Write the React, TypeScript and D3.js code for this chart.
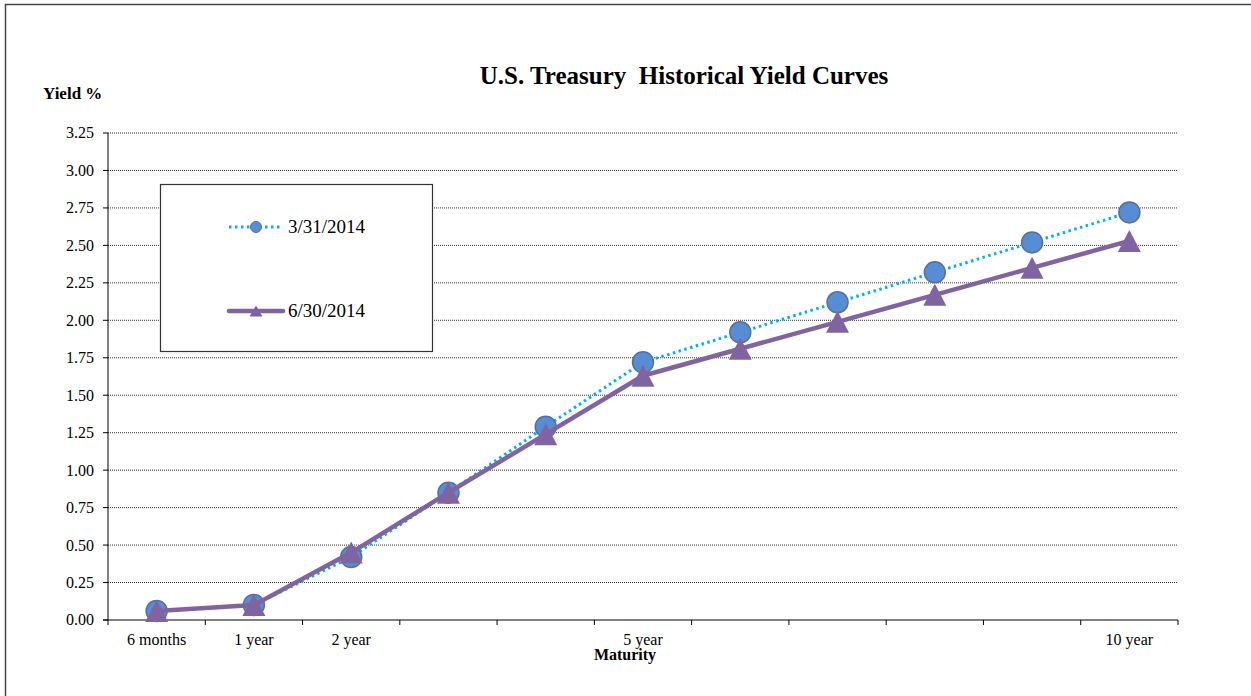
import React from "react";
import * as d3 from "d3";

const categories = ["6m", "1y", "2y", "3y", "4y", "5y", "6y", "7y", "8y", "9y", "10y"];
const categoryLabels = ["6 months", "1 year", "2 year", "", "", "5 year", "", "", "", "", "10 year"];
const march2014 = [0.06, 0.1, 0.42, 0.85, 1.29, 1.72, 1.92, 2.12, 2.32, 2.52, 2.72];
const june2014 = [0.06, 0.1, 0.45, 0.85, 1.24, 1.63, 1.81, 1.99, 2.17, 2.35, 2.53];
const yTicks = [0, 0.25, 0.5, 0.75, 1.0, 1.25, 1.5, 1.75, 2.0, 2.25, 2.5, 2.75, 3.0, 3.25];
const seriesNames = ["3/31/2014", "6/30/2014"];

const W = 1251;
const H = 696;
const FONT = "'Liberation Serif', 'Times New Roman', serif";

export default function App() {
  const x = d3.scaleBand<string>().domain(categories).range([108, 1178]).padding(0);
  const y = d3.scaleLinear().domain([0, 3.25]).range([620, 133]);
  const cx = (c: string) => (x(c) as number) + x.bandwidth() / 2;

  const line = d3
    .line<number>()
    .x((_, i) => cx(categories[i]))
    .y((d) => y(d));

  const tri = (w: number, h: number) => `M0,${-h / 2}L${w / 2},${h / 2}L${-w / 2},${h / 2}Z`;

  const boundaries = categories.map((c) => x(c) as number).concat([1178]);

  return (
    <svg
      width={W}
      height={H}
      style={{ position: "absolute", left: 0, top: 0, background: "#fff" }}
      fontFamily={FONT}
    >
      <rect x={5.5} y={4.5} width={1400} height={800} fill="none" stroke="#444" strokeWidth={1.5} />

      <text x={684} y={84} textAnchor="middle" fontSize={25} fontWeight="bold">
        U.S. Treasury{"\u00a0\u00a0"}Historical Yield Curves
      </text>
      <text x={43} y={99} fontSize={17} fontWeight="bold">
        Yield %
      </text>

      {/* gridlines */}
      {yTicks.map((t) =>
        t === 0 ? null : (
          <line
            key={"g" + t}
            x1={108}
            x2={1178}
            y1={y(t)}
            y2={y(t)}
            stroke="#333"
            strokeWidth={1}
            strokeDasharray="1 1"
          />
        )
      )}
      {/* y axis */}
      <line x1={108} x2={108} y1={133} y2={620} stroke="#000" strokeWidth={1} />
      {yTicks.map((t) => (
        <g key={"yt" + t}>
          <line x1={103} x2={108} y1={y(t)} y2={y(t)} stroke="#000" />
          <text x={94} y={y(t)} dy="0.34em" textAnchor="end" fontSize={16}>
            {t.toFixed(2)}
          </text>
        </g>
      ))}
      {/* x axis */}
      <line x1={103} x2={1178} y1={620} y2={620} stroke="#000" strokeWidth={1} />
      {boundaries.map((b, i) => (
        <line key={"xt" + i} x1={b} x2={b} y1={620} y2={625} stroke="#000" />
      ))}
      {categories.map((c, i) =>
        categoryLabels[i] ? (
          <text key={"xl" + c} x={cx(c)} y={645} textAnchor="middle" fontSize={16}>
            {categoryLabels[i]}
          </text>
        ) : null
      )}
      <text x={625} y={660} textAnchor="middle" fontSize={16} fontWeight="bold">
        Maturity
      </text>

      {/* series 1 */}
      <path d={line(march2014) || ""} fill="none" stroke="#00B0F0" strokeWidth={3} strokeDasharray="2.5 3.5" />
      {march2014.map((v, i) => (
        <circle
          key={"c" + i}
          cx={cx(categories[i])}
          cy={y(v)}
          r={10.5}
          fill="#558ED5"
          stroke="#5B6E9A"
          strokeWidth={1.5}
        />
      ))}

      {/* series 2 */}
      <path d={line(june2014) || ""} fill="none" stroke="#8064A2" strokeWidth={4.5} strokeLinejoin="round" />
      {june2014.map((v, i) => (
        <path
          key={"t" + i}
          d={tri(23, 22)}
          transform={`translate(${cx(categories[i])},${y(v)})`}
          fill="#8064A2"
        />
      ))}

      {/* legend */}
      <rect x={160.5} y={184.5} width={272} height={167} fill="#fff" stroke="#333" strokeWidth={1.2} />
      <line x1={229} x2={280} y1={227} y2={227} stroke="#00B0F0" strokeWidth={3} strokeDasharray="2.5 3.5" />
      <circle cx={256} cy={227} r={5.5} fill="#558ED5" stroke="#5B6E9A" strokeWidth={1} />
      <text x={288} y={227} dy="0.34em" fontSize={19}>
        {seriesNames[0]}
      </text>
      <line x1={229} x2={283} y1={311} y2={311} stroke="#8064A2" strokeWidth={4.5} strokeLinecap="round" />
      <path d={tri(13, 11)} transform="translate(256,311)" fill="#8064A2" />
      <text x={288} y={311} dy="0.34em" fontSize={19}>
        {seriesNames[1]}
      </text>
    </svg>
  );
}
